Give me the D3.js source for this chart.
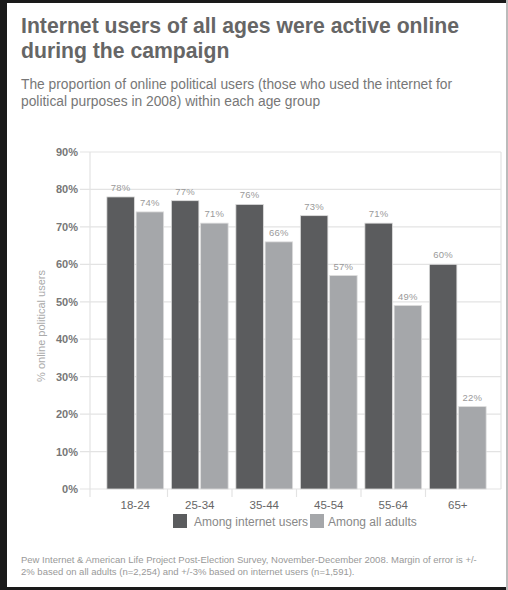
<!DOCTYPE html>
<html><head><meta charset="utf-8">
<script src="https://cdn.jsdelivr.net/npm/d3@7"></script>
<style>body{margin:0;background:#fff}svg{display:block}</style>
</head><body>
<svg id="c" width="508" height="590"></svg>
<script>
const categories = ["18-24","25-34","35-44","45-54","55-64","65+"];
const internetUsers = [78,77,76,73,71,60];
const allAdults = [74,71,66,57,49,22];
const seriesNames = ["Among internet users","Among all adults"];
const yTicks = [0,10,20,30,40,50,60,70,80,90];
const colors = ["#5b5c5e","#a5a7aa"];

const svg = d3.select("#c");
const W = 508, H = 590;
svg.append("rect").attr("width",W).attr("height",H).attr("fill","#fff");

// frame
svg.append("rect").attr("x",0).attr("y",0).attr("width",W).attr("height",3).attr("fill","#1a1a1a");
svg.append("rect").attr("x",0).attr("y",0).attr("width",7).attr("height",H).attr("fill","#1a1a1a");
svg.append("rect").attr("x",0).attr("y",587).attr("width",W).attr("height",3).attr("fill","#1a1a1a");
svg.append("rect").attr("x",506).attr("y",0).attr("width",2).attr("height",H).attr("fill","#bbb");

const font = "Liberation Sans, Arial, Helvetica, sans-serif";

// title
const title = svg.append("text").attr("x",21).attr("font-family",font).attr("font-weight","bold")
  .attr("font-size",21.2).attr("fill","#666");
title.append("tspan").attr("x",21).attr("y",33).text("Internet users of all ages were active online");
title.append("tspan").attr("x",21).attr("y",58).text("during the campaign");

const sub = svg.append("text").attr("font-family",font).attr("font-size",13.8).attr("fill","#777");
sub.append("tspan").attr("x",21).attr("y",89).text("The proportion of online political users (those who used the internet for");
sub.append("tspan").attr("x",21).attr("y",106).text("political purposes in 2008) within each age group");

// scales
const y = d3.scaleLinear().domain([0,90]).range([489,152]);
const x = d3.scaleBand().domain(categories).range([103,490]).paddingInner(0.12).paddingOuter(0.06);
const xs = d3.scaleBand().domain(seriesNames).range([0,x.bandwidth()]).paddingInner(0.06);

const plotL = 90, plotR = 501;

// gridlines
svg.append("g").selectAll("line").data(yTicks).join("line")
  .attr("x1",80).attr("x2",plotR).attr("y1",d=>y(d)).attr("y2",d=>y(d))
  .attr("stroke","#e3e3e3").attr("stroke-width",1.2);
svg.append("line").attr("x1",plotL).attr("x2",plotL).attr("y1",y(90)).attr("y2",y(0)+8).attr("stroke","#e3e3e3").attr("stroke-width",1.2);
svg.append("line").attr("x1",plotR).attr("x2",plotR).attr("y1",y(90)).attr("y2",y(0)).attr("stroke","#e3e3e3").attr("stroke-width",1.2);
// category separators
const step = x.step();
const seps = categories.slice(1).map(c => x(c) - x.paddingInner()*step/2);
svg.append("g").selectAll("line").data(seps).join("line")
  .attr("x1",d=>d).attr("x2",d=>d).attr("y1",y(0)).attr("y2",y(0)+8)
  .attr("stroke","#e3e3e3").attr("stroke-width",1.2);

// y tick labels
svg.append("g").selectAll("text").data(yTicks).join("text")
  .attr("x",78).attr("y",d=>y(d)+4).attr("text-anchor","end")
  .attr("font-family",font).attr("font-weight","bold").attr("font-size",11).attr("fill","#777")
  .text(d=>d+"%");

// y axis title
svg.append("text").attr("transform","translate(45,326) rotate(-90)").attr("text-anchor","middle")
  .attr("font-family",font).attr("font-size",11).attr("fill","#aaa").text("% online political users");

// bars
const data = categories.map((c,i)=>({c, vals:[internetUsers[i], allAdults[i]]}));
const groups = svg.append("g").selectAll("g").data(data).join("g")
  .attr("transform",d=>`translate(${x(d.c)},0)`);
groups.selectAll("rect").data(d=>d.vals.map((v,j)=>({v,s:seriesNames[j],j}))).join("rect")
  .attr("x",d=>xs(d.s)).attr("width",xs.bandwidth())
  .attr("y",d=>y(d.v)).attr("height",d=>y(0)-y(d.v))
  .attr("fill",d=>colors[d.j]).attr("stroke","#ddd").attr("stroke-width",0.8);
groups.selectAll("text").data(d=>d.vals.map((v,j)=>({v,s:seriesNames[j],j}))).join("text")
  .attr("x",d=>xs(d.s)+xs.bandwidth()/2).attr("y",d=>y(d.v)-6).attr("text-anchor","middle")
  .attr("font-family",font).attr("font-size",9.5).attr("fill","#9a9a9a").attr("letter-spacing",0.3)
  .text(d=>d.v+"%");

// category labels
svg.append("g").selectAll("text").data(categories).join("text")
  .attr("x",d=>x(d)+x.bandwidth()/2).attr("y",509).attr("text-anchor","middle")
  .attr("font-family",font).attr("font-size",11.5).attr("fill","#666").text(d=>d);

// legend
const leg = [{x:173, tx:194},{x:310, tx:328}];
seriesNames.forEach((s,i)=>{
  svg.append("rect").attr("x",leg[i].x).attr("y",514).attr("width",14).attr("height",14).attr("fill",colors[i]);
  svg.append("text").attr("x",leg[i].tx).attr("y",526).attr("font-family",font).attr("font-size",12)
    .attr("fill","#888").text(s);
});

// footer
const foot = svg.append("text").attr("font-family",font).attr("font-size",9.5).attr("fill","#999");
foot.append("tspan").attr("x",21).attr("y",563).text("Pew Internet & American Life Project Post-Election Survey, November-December 2008. Margin of error is +/-");
foot.append("tspan").attr("x",21).attr("y",575).text("2% based on all adults (n=2,254) and +/-3% based on internet users (n=1,591).");
</script>
</body></html>
